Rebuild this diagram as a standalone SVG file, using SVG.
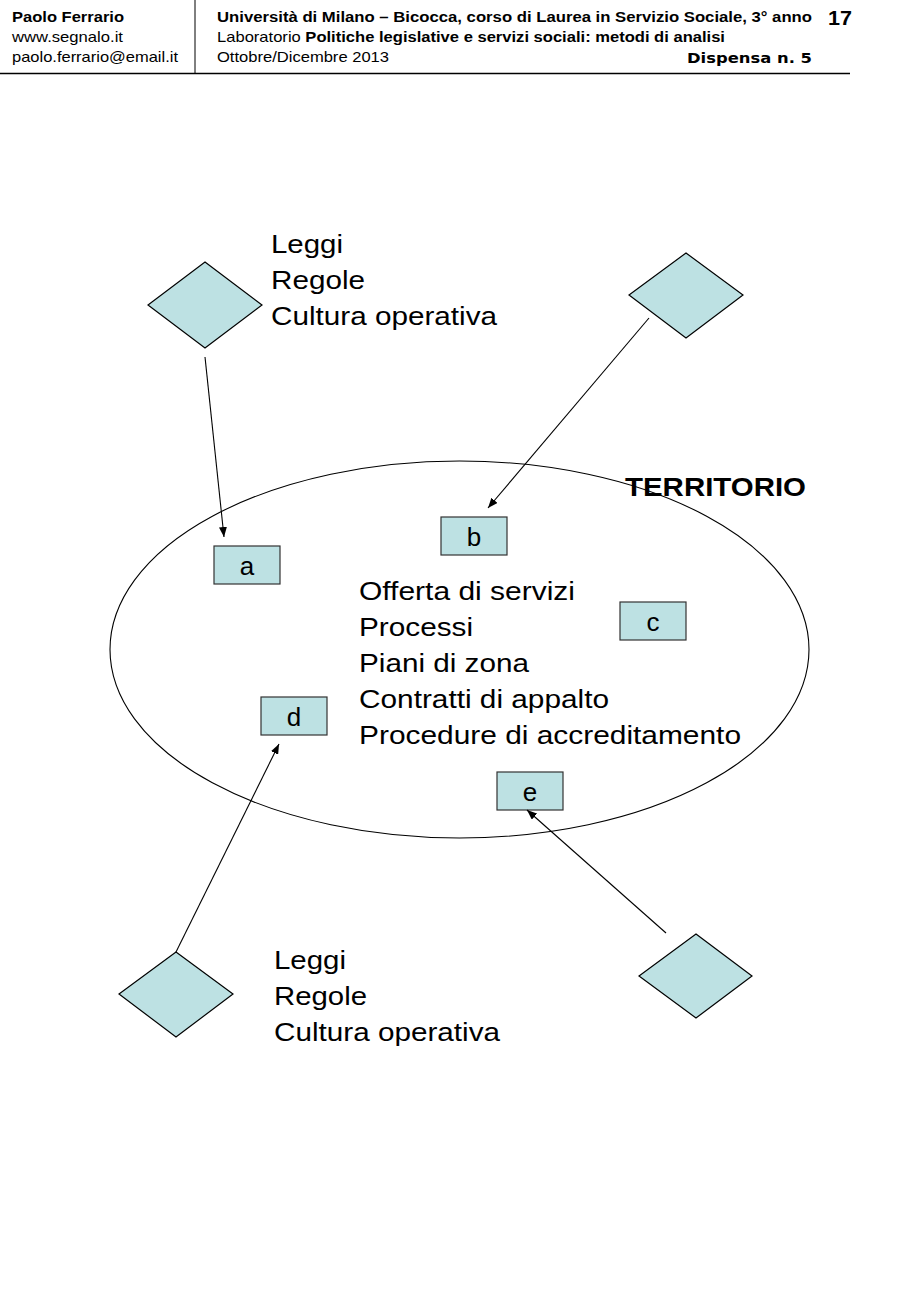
<svg xmlns="http://www.w3.org/2000/svg" width="900" height="1300" viewBox="0 0 900 1300">
<defs>
<marker id="ah" viewBox="0 0 10 8" refX="10" refY="4" markerWidth="10" markerHeight="8" markerUnits="userSpaceOnUse" orient="auto">
<path d="M0,0 L10,4 L0,8 z" fill="#000"/>
</marker>
<style>
.h{font-family:"Liberation Sans",Arial,sans-serif;font-size:14.5px;fill:#000}
.b{font-weight:bold}
.t{font-family:"Liberation Sans",Arial,sans-serif;font-size:26px;fill:#000}
.dia{fill:#bde1e3;stroke:#000;stroke-width:1.2}
.box{fill:#bde1e3;stroke:#333;stroke-width:1.2}
.lbl{font-family:"Liberation Sans",Arial,sans-serif;font-size:26px;fill:#000;text-anchor:middle}
.con{stroke:#000;stroke-width:1.1;fill:none;marker-end:url(#ah)}
</style>
</defs>
<rect width="900" height="1300" fill="#fff"/>
<g id="header">
<text class="h b" x="12" y="22" textLength="112" lengthAdjust="spacingAndGlyphs">Paolo Ferrario</text>
<text class="h" x="12" y="42" textLength="111" lengthAdjust="spacingAndGlyphs">www.segnalo.it</text>
<text class="h" x="12" y="62" textLength="166" lengthAdjust="spacingAndGlyphs">paolo.ferrario@email.it</text>
<line x1="195" y1="0" x2="195" y2="73" stroke="#000" stroke-width="1"/>
<line x1="0" y1="73.5" x2="850" y2="73.5" stroke="#000" stroke-width="1.3"/>
<text class="h b" x="217" y="22" textLength="595" lengthAdjust="spacingAndGlyphs">Università di Milano – Bicocca, corso di  Laurea in Servizio Sociale, 3° anno</text>
<text class="h" x="217" y="42" textLength="508" lengthAdjust="spacingAndGlyphs">Laboratorio <tspan class="b">Politiche legislative e servizi sociali: metodi di analisi</tspan></text>
<text class="h" x="217" y="62" textLength="172" lengthAdjust="spacingAndGlyphs">Ottobre/Dicembre 2013</text>
<text x="687" y="63" textLength="125" lengthAdjust="spacingAndGlyphs" style="font-family:'DejaVu Sans',Verdana,sans-serif;font-size:14px;font-weight:bold">Dispensa n. 5</text>
<text x="828" y="25" textLength="24" lengthAdjust="spacingAndGlyphs" style="font-family:'Liberation Sans',Arial,sans-serif;font-size:21px;font-weight:bold">17</text>
</g>
<g id="territorio">
<ellipse cx="459.5" cy="649.5" rx="349.5" ry="188.5" fill="none" stroke="#000" stroke-width="1.1"/>
<text class="t" x="625" y="496" font-weight="bold" textLength="181" lengthAdjust="spacingAndGlyphs">TERRITORIO</text>
<text class="t" x="359" y="600" textLength="216" lengthAdjust="spacingAndGlyphs">Offerta di servizi</text>
<text class="t" x="359" y="636" textLength="114" lengthAdjust="spacingAndGlyphs">Processi</text>
<text class="t" x="359" y="672" textLength="170" lengthAdjust="spacingAndGlyphs">Piani di zona</text>
<text class="t" x="359" y="708" textLength="250" lengthAdjust="spacingAndGlyphs">Contratti di appalto</text>
<text class="t" x="359" y="744" textLength="382" lengthAdjust="spacingAndGlyphs">Procedure di accreditamento</text>
</g>
<g id="diamond1"><polygon class="dia" points="205,262 262,305 205,348 148,305"/></g>
<g id="diamond2"><polygon class="dia" points="686,253 743,295 686,338 629,295"/></g>
<g id="diamond3"><polygon class="dia" points="176,952 233,994 176,1037 119,994"/></g>
<g id="diamond4"><polygon class="dia" points="696,934 752,976 696,1018 639,976"/></g>
<g id="text-top">
<text class="t" x="271" y="253" textLength="72" lengthAdjust="spacingAndGlyphs">Leggi</text>
<text class="t" x="271" y="289" textLength="94" lengthAdjust="spacingAndGlyphs">Regole</text>
<text class="t" x="271" y="325" textLength="226" lengthAdjust="spacingAndGlyphs">Cultura operativa</text>
</g>
<g id="text-bottom">
<text class="t" x="274" y="969" textLength="72" lengthAdjust="spacingAndGlyphs">Leggi</text>
<text class="t" x="274" y="1005" textLength="93" lengthAdjust="spacingAndGlyphs">Regole</text>
<text class="t" x="274" y="1041" textLength="226" lengthAdjust="spacingAndGlyphs">Cultura operativa</text>
</g>
<g id="box-a"><rect class="box" x="214" y="546" width="66" height="38"/><text class="lbl" x="247" y="575">a</text></g>
<g id="box-b"><rect class="box" x="441" y="517" width="66" height="38"/><text class="lbl" x="474" y="546">b</text></g>
<g id="box-c"><rect class="box" x="620" y="602" width="66" height="38"/><text class="lbl" x="653" y="631">c</text></g>
<g id="box-d"><rect class="box" x="261" y="697" width="66" height="38"/><text class="lbl" x="294" y="726">d</text></g>
<g id="box-e"><rect class="box" x="497" y="772" width="66" height="38"/><text class="lbl" x="530" y="801">e</text></g>
<g id="connectors">
<line class="con" x1="205" y1="357" x2="224" y2="537"/>
<line class="con" x1="649" y1="318" x2="488" y2="508"/>
<line class="con" x1="176" y1="952" x2="279" y2="744"/>
<line class="con" x1="666" y1="933" x2="527" y2="810"/>
</g>
</svg>
